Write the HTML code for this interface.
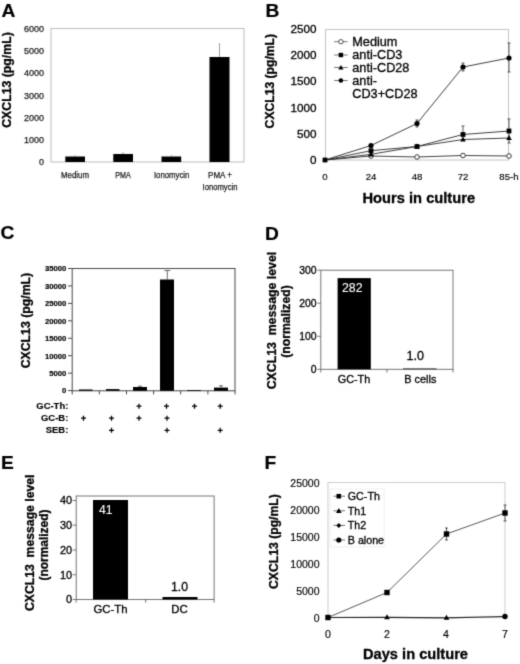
<!DOCTYPE html>
<html>
<head>
<meta charset="utf-8">
<style>
html,body{margin:0;padding:0;background:#fff;}
svg{display:block;filter:grayscale(1);}
text{font-family:"Liberation Sans",sans-serif;fill:#000;stroke:#000;stroke-width:0.3px;}
.b{font-weight:bold;}
.ns text{stroke-width:0.17px;}
.ms text{stroke-width:0.15px;}
.lt text{fill:#1c1c1c;stroke:#1c1c1c;stroke-width:0.25px;}
.pl{font-weight:bold;font-size:19.2px;fill:#000;stroke-width:0.2px;}
</style>
</head>
<body>
<svg width="520" height="664" viewBox="0 0 520 664">
<defs><filter id="bl" color-interpolation-filters="sRGB" x="0" y="0" width="520" height="664" filterUnits="userSpaceOnUse"><feConvolveMatrix order="3" kernelMatrix="0.0192 0.1001 0.0192 0.1001 0.5228 0.1001 0.0192 0.1001 0.0192" divisor="1" edgeMode="duplicate" preserveAlpha="false"/></filter></defs>
<g filter="url(#bl)">
<rect x="0" y="0" width="520" height="664" fill="#fff"/>

<!-- ================= PANEL A ================= -->
<g id="A">
<text class="pl" x="1.5" y="16.8">A</text>
<rect x="51" y="28.5" width="193" height="133.5" fill="none" stroke="#bcbcbc" stroke-width="1"/>
<g class="lt" font-size="9" text-anchor="end" fill="#222">
<text x="44.1" y="165.4">0</text>
<text x="44.1" y="143.1">1000</text>
<text x="44.1" y="120.9">2000</text>
<text x="44.1" y="98.6">3000</text>
<text x="44.1" y="76.4">4000</text>
<text x="44.1" y="54.1">5000</text>
<text x="44.1" y="31.9">6000</text>
</g>
<text class="b" font-size="12.2" transform="translate(11,80) rotate(-90)" text-anchor="middle" textLength="95.5" lengthAdjust="spacingAndGlyphs">CXCL13 (pg/mL)</text>
<g fill="#000">
<rect x="65.3" y="156.5" width="19.7" height="5.5"/>
<rect x="113.3" y="154" width="19.7" height="8"/>
<rect x="161.5" y="156.5" width="19.7" height="5.5"/>
<rect x="209.5" y="57" width="20" height="105"/>
</g>
<g stroke="#7a7a7a" stroke-width="0.7">
<line x1="75" y1="155" x2="75" y2="157"/>
<line x1="123" y1="152" x2="123" y2="154"/>
<line x1="171.5" y1="155" x2="171.5" y2="157"/>
<line x1="219.5" y1="44" x2="219.5" y2="57"/>
<line x1="218.7" y1="44" x2="220.3" y2="44"/>
</g>
<g class="lt" font-size="8.6" text-anchor="middle" fill="#222">
<text x="75" y="178" textLength="28" lengthAdjust="spacingAndGlyphs">Medium</text>
<text x="123" y="178" textLength="15.5" lengthAdjust="spacingAndGlyphs">PMA</text>
<text x="171.7" y="178" textLength="35.5" lengthAdjust="spacingAndGlyphs">Ionomycin</text>
<text x="220" y="178" textLength="24" lengthAdjust="spacingAndGlyphs">PMA +</text>
<text x="220" y="190" textLength="35" lengthAdjust="spacingAndGlyphs">Ionomycin</text>
</g>
</g>

<!-- ================= PANEL B ================= -->
<g id="B">
<text class="pl" x="265.5" y="16.7">B</text>
<rect x="325.5" y="29.5" width="183" height="130.5" fill="none" stroke="#c4c4c4" stroke-width="1"/>
<g font-size="11.7" text-anchor="end" fill="#222">
<text x="316.4" y="32.9">2500</text>
<text x="316.4" y="59">2000</text>
<text x="316.4" y="85.4">1500</text>
<text x="316.4" y="111.6">1000</text>
<text x="316.4" y="138.1">500</text>
<text x="316.4" y="164.2">0</text>
</g>
<text class="b" font-size="12.2" transform="translate(273.9,81.2) rotate(-90)" text-anchor="middle" textLength="94.4" lengthAdjust="spacingAndGlyphs">CXCL13 (pg/mL)</text>
<g class="ms" font-size="9.6" text-anchor="middle" fill="#222">
<text x="325" y="179.8">0</text>
<text x="371" y="179.8">24</text>
<text x="417" y="179.8">48</text>
<text x="463" y="179.8">72</text>
<text x="508.9" y="179.8">85-h</text>
</g>
<text class="b" font-size="14.6" x="418.8" y="202.6" text-anchor="middle" textLength="112.6" lengthAdjust="spacingAndGlyphs">Hours in culture</text>
<!-- series lines -->
<g fill="none" stroke="#2a2a2a" stroke-width="0.9">
<polyline points="325,160 371,156 417,157 463,155.5 509,156"/>
<polyline points="325,160 371,150.7 417,146.5 463,134.5 509,131"/>
<polyline points="325,160 371,154.3 417,146.5 463,139.5 509,138"/>
<polyline points="325,160 371,145.5 417,123.5 463,67 509,58"/>
</g>
<!-- error bars -->
<g stroke="#333" stroke-width="0.8" fill="none">
<path d="M417,120v7M415.5,120h3M415.5,127h3"/>
<path d="M463,63v8M461.5,63h3M461.5,71h3"/>
<path d="M509,43v29M507.5,43h3M507.5,72h3"/>
<path d="M463,126v8M461.5,126h3"/>
<path d="M509,119v24M507.5,119h3M507.5,143h3"/>
</g>
<!-- markers -->
<g fill="#fff" stroke="#222" stroke-width="0.9">
<circle cx="371" cy="156" r="2.3"/><circle cx="417" cy="157" r="2.3"/><circle cx="463" cy="155.5" r="2.3"/><circle cx="509" cy="156" r="2.3"/>
</g>
<g fill="#000">
<rect x="322.6" y="157.6" width="4.8" height="4.800"/>
<rect x="368.6" y="148.3" width="4.8" height="4.8"/><rect x="414.6" y="144.1" width="4.800" height="4.8"/><rect x="460.6" y="132.1" width="4.800" height="4.800"/><rect x="506.6" y="128.600" width="4.800" height="4.800"/>
<path d="M371,151.4l2.800,5h-5.600zM417,143.500l2.800,5h-5.600zM463,136.500l2.800,5h-5.600zM509,135l2.800,5h-5.600z"/>
<circle cx="371" cy="145.5" r="2.6"/><circle cx="417" cy="123.5" r="2.6"/><circle cx="463" cy="67" r="2.6"/><circle cx="509" cy="58" r="2.6"/>
</g>
<!-- legend -->
<g stroke="#444" stroke-width="0.75">
<line x1="334.2" y1="41.7" x2="347.6" y2="41.7"/>
<line x1="334.2" y1="55" x2="347.6" y2="55"/>
<line x1="334.2" y1="67.5" x2="347.6" y2="67.5"/>
<line x1="334.2" y1="80.5" x2="347.6" y2="80.5"/>
</g>
<circle cx="340.9" cy="41.7" r="2.2" fill="#fff" stroke="#222" stroke-width="0.8"/>
<rect x="338.7" y="52.8" width="4.4" height="4.4" fill="#000"/>
<path d="M340.9,65l2.6,4.600h-5.2z" fill="#000"/>
<circle cx="340.9" cy="80.5" r="2.3" fill="#000"/>
<g font-size="12.7" fill="#111">
<text x="352.3" y="46">Medium</text>
<text x="352.3" y="59.3">anti-CD3</text>
<text x="352.3" y="71.8">anti-CD28</text>
<text x="352.3" y="84.8">anti-</text>
<text x="352.3" y="98">CD3+CD28</text>
</g>
</g>

<!-- ================= PANEL C ================= -->
<g id="C">
<text class="pl" x="0.5" y="238.8">C</text>
<rect x="72.2" y="268.5" width="162.8" height="122.3" fill="none" stroke="#484848" stroke-width="1"/>
<g stroke="#484848" stroke-width="1">
<path d="M68,268.50h4M68,285.94h4M68,303.38h4M68,320.82h4M68,338.26h4M68,355.70h4M68,373.14h4M68,390.58h4"/>
<path d="M72.2,390.8v3.6M99.3,390.8v3.6M126.5,390.8v3.6M153.6,390.8v3.6M180.7,390.8v3.6M207.9,390.8v3.6M235.0,390.8v3.6"/>
</g>
<g class="b ns" font-size="7.7" text-anchor="end">
<text x="66.3" y="271.3">35000</text>
<text x="66.3" y="288.7">30000</text>
<text x="66.3" y="306.2">25000</text>
<text x="66.3" y="323.6">20000</text>
<text x="66.3" y="341.1">15000</text>
<text x="66.3" y="358.5">10000</text>
<text x="66.3" y="375.9">5000</text>
<text x="66.3" y="393.4">0</text>
</g>
<text class="b" font-size="12.2" transform="translate(30.2,320.6) rotate(-90)" text-anchor="middle" textLength="95.5" lengthAdjust="spacingAndGlyphs">CXCL13 (pg/mL)</text>
<g fill="#000">
<rect x="79" y="389.5" width="13.5" height="1.3"/>
<rect x="106" y="389.1" width="13.5" height="1.7"/>
<rect x="133" y="387" width="14" height="3.8"/>
<rect x="160" y="279.5" width="14" height="111.3"/>
<rect x="187" y="390" width="14" height="0.8"/>
<rect x="214" y="387.6" width="14" height="3.2"/>
</g>
<g stroke="#444" stroke-width="0.8" fill="none">
<path d="M167.3,270.5v9M164.3,270.5h6"/>
<path d="M140,386.2v1M138,386.2h4"/>
<path d="M221,385.8v2M219,385.8h4"/>
</g>
<g class="b ms" font-size="9.45" text-anchor="end">
<text x="68.3" y="408.7">GC-Th:</text>
<text x="68.3" y="420.8">GC-B:</text>
<text x="68.3" y="433">SEB:</text>
</g>
<g stroke="#000" stroke-width="1.25" fill="none">
<path d="M139,403.7v5.0M136.5,406.2h5.0 M166.5,403.7v5.0M164.0,406.2h5.0 M194.5,403.7v5.0M192.0,406.2h5.0 M220.2,403.7v5.0M217.7,406.2h5.0 "/>
<path d="M83.5,415.7v5.0M81.0,418.2h5.0 M111.5,415.7v5.0M109.0,418.2h5.0 M139,415.7v5.0M136.5,418.2h5.0 M167,415.7v5.0M164.5,418.2h5.0 "/>
<path d="M111.5,427.8v5.0M109.0,430.3h5.0 M167,427.8v5.0M164.5,430.3h5.0 M220.2,427.8v5.0M217.7,430.3h5.0 "/>
</g>
</g>

<!-- ================= PANEL D ================= -->
<g id="D">
<text class="pl" x="264.9" y="239.7">D</text>
<rect x="320.8" y="270.2" width="132.2" height="99.1" fill="none" stroke="#666" stroke-width="0.9"/>
<g stroke="#666" stroke-width="0.9">
<path d="M317.3,270.2h3.500M317.3,303.200h3.500M317.3,336.300h3.500M317.3,369.300h3.500"/>
<path d="M320.8,369.300v3.200M386.900,369.300v3.200M453,369.300v3.200"/>
</g>
<g font-size="10.4" text-anchor="end" fill="#222">
<text x="316.600" y="273.9">300</text>
<text x="316.600" y="306.9">200</text>
<text x="316.600" y="340">100</text>
<text x="316.600" y="373">0</text>
</g>
<text class="b" font-size="12.1" transform="translate(276,320.6) rotate(-90)" text-anchor="middle" textLength="137.500" lengthAdjust="spacingAndGlyphs" xml:space="preserve">CXCL13  message level</text>
<text class="b" font-size="12.1" transform="translate(290.4,321.5) rotate(-90)" text-anchor="middle" textLength="72.500" lengthAdjust="spacingAndGlyphs">(normalized)</text>
<rect x="337.6" y="278.1" width="33.2" height="91.2" fill="#000"/>
<rect x="403" y="368.400" width="33.500" height="0.900" fill="#333"/>
<text x="352.300" y="291.500" font-size="12.3" text-anchor="middle" style="fill:#fff;stroke:#fff;stroke-width:0.1px">282</text>
<text x="415.2" y="360.4" font-size="12.6" text-anchor="middle" fill="#222">1.0</text>
<g font-size="10.9" text-anchor="middle" fill="#222">
<text x="354" y="383">GC-Th</text>
<text x="420.3" y="383">B cells</text>
</g>
</g>

<!-- ================= PANEL E ================= -->
<g id="E">
<text class="pl" x="1.1" y="469.4">E</text>
<rect x="76.2" y="496" width="137.9" height="103.5" fill="none" stroke="#666" stroke-width="0.9"/>
<g stroke="#666" stroke-width="0.9">
<path d="M72.700,500.500h3.500M72.700,525.200h3.500M72.700,550h3.500M72.700,574.700h3.500M72.700,599.500h3.500"/>
<path d="M76.200,599.500v3.200M145.700,599.500v3.200M214.100,599.500v3.200"/>
</g>
<g font-size="10.9" text-anchor="end" fill="#222">
<text x="72" y="504.400">40</text>
<text x="72" y="529.100">30</text>
<text x="72" y="553.900">20</text>
<text x="72" y="578.600">10</text>
<text x="72" y="603.400">0</text>
</g>
<text class="b" font-size="12.1" transform="translate(34.4,542.8) rotate(-90)" text-anchor="middle" textLength="136.500" lengthAdjust="spacingAndGlyphs" xml:space="preserve">CXCL13  message level</text>
<text class="b" font-size="12.1" transform="translate(48.1,545) rotate(-90)" text-anchor="middle" textLength="71" lengthAdjust="spacingAndGlyphs">(normalized)</text>
<rect x="93" y="500" width="35" height="99.500" fill="#000"/>
<rect x="162.500" y="597" width="35" height="2.500" fill="#000"/>
<text x="105.7" y="514.3" font-size="12.200" text-anchor="middle" style="fill:#fff;stroke:#fff;stroke-width:0.1px">41</text>
<text x="179.500" y="590.500" font-size="12.200" text-anchor="middle" fill="#222">1.0</text>
<g font-size="11.400" text-anchor="middle" fill="#222">
<text x="110.500" y="612.500">GC-Th</text>
<text x="179.500" y="613.200">DC</text>
</g>
</g>

<!-- ================= PANEL F ================= -->
<g id="F">
<text class="pl" x="264.4" y="469.4">F</text>
<rect x="328" y="482.5" width="177" height="135" fill="none" stroke="#cdcdcd" stroke-width="1"/>
<g class="ms" font-size="10.5" text-anchor="end" fill="#222">
<text x="319.5" y="487.3">25000</text>
<text x="319.5" y="514.3">20000</text>
<text x="319.5" y="541.3">15000</text>
<text x="319.5" y="568.3">10000</text>
<text x="319.5" y="595.3">5000</text>
<text x="319.5" y="622.3">0</text>
</g>
<text class="b" font-size="12.2" transform="translate(277.9,541.6) rotate(-90)" text-anchor="middle" textLength="94.8" lengthAdjust="spacingAndGlyphs">CXCL13 (pg/mL)</text>
<g class="ms" font-size="10.6" text-anchor="middle" fill="#222">
<text x="328" y="637.7">0</text>
<text x="387" y="637.7">2</text>
<text x="446" y="637.7">4</text>
<text x="505" y="637.7">7</text>
</g>
<text class="b" font-size="14.6" x="415.5" y="658.5" text-anchor="middle" textLength="105" lengthAdjust="spacingAndGlyphs">Days in culture</text>
<g fill="none" stroke="#3a3a3a" stroke-width="0.85">
<polyline points="328,617.5 387,592.5 446.5,534 505,513"/>
<polyline points="328,617.5 387,617.3 446.5,617.8 505,616.5" stroke="#222" stroke-width="1.2"/>
</g>
<g stroke="#333" stroke-width="0.8" fill="none">
<path d="M446.5,528v12M445,528h3M445,540h3"/>
<path d="M505,505v16M503.500,505h3M503.500,521h3"/>
</g>
<g fill="#000">
<rect x="325.3" y="614.8" width="5.4" height="5.4"/>
<rect x="384.3" y="589.8" width="5.4" height="5.4"/>
<rect x="443.8" y="531.3" width="5.4" height="5.4"/>
<rect x="502.300" y="510.300" width="5.4" height="5.4"/>
<path d="M387,614.200l2.800,5h-5.600zM446.500,614.700l2.800,5h-5.600z"/>
<circle cx="505" cy="616.500" r="2.700"/>
</g>
<!-- legend -->
<rect x="330.2" y="489" width="54" height="58" fill="#fff" stroke="#efefef" stroke-width="1"/>
<g stroke="#444" stroke-width="0.75">
<line x1="333.5" y1="496.2" x2="345" y2="496.2"/>
<line x1="333.5" y1="510.8" x2="345" y2="510.8"/>
<line x1="333.5" y1="525.4" x2="345" y2="525.4"/>
<line x1="333.5" y1="540" x2="345" y2="540"/>
</g>
<rect x="336.500" y="493.900" width="4.600" height="4.600" fill="#000"/>
<path d="M338.800,508l2.800,5h-5.600z" fill="#000"/>
<path d="M338.800,522.900l2.500,2.500l-2.500,2.500l-2.500,-2.500z" fill="#000"/>
<circle cx="338.800" cy="540" r="2.600" fill="#000"/>
<g font-size="10.7" fill="#111">
<text x="347.8" y="500">GC-Th</text>
<text x="347.8" y="514.600">Th1</text>
<text x="347.800" y="529.200">Th2</text>
<text x="347.800" y="543.800">B alone</text>
</g>
</g>
</g>
</svg>
</body>
</html>
